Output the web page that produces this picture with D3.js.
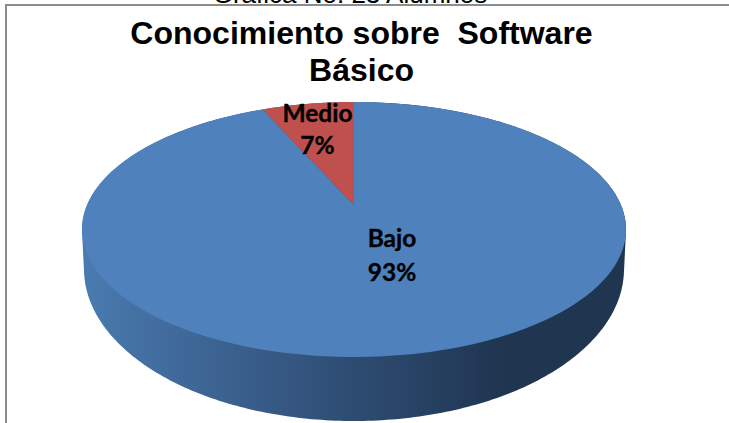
<!DOCTYPE html>
<html><head><meta charset="utf-8">
<script src="https://cdn.jsdelivr.net/npm/d3@7"></script>
<style>html,body{margin:0;padding:0;background:#fff}svg{display:block}</style></head>
<body><svg id="c" width="729" height="423"></svg>
<script>
const categories = ["Bajo", "Medio"];
const values = [93.4, 6.6];
const chartTitle = ["Conocimiento sobre  Software", "Básico"];
const pageCaption = "Gráfica No. 23 Alumnos";

const svg = d3.select("#c");
const cx = 354, cy = 229.5, rx = 272, ry = 127.5, tilt = 0.192;
const lowCy = 269, lowRx = 270, lowRy = 152;

// Projective map of the pie's flat circle on to the tilted ellipse
function project(r, a) {
  const X = r * Math.sin(a), Y = r * Math.cos(a), w = 1 + tilt * Y;
  return [cx + rx * X * Math.sqrt(1 - tilt * tilt) / w, cy - ry * (Y + tilt) / w];
}
function slicePath(d) {
  const steps = d3.range(0, 181).map(i => d.startAngle + (d.endAngle - d.startAngle) * i / 180);
  return d3.line()([project(0, 0), ...steps.map(a => project(1, a))]) + "Z";
}

// Bajo sweeps clockwise from 12 o'clock round to Medio, which ends at 12 o'clock
const total = d3.sum(values);
const slices = d3.pie().value(d => d).sort(null)(values);
const fills = d3.scaleOrdinal().domain(categories).range(["#4f81bd", "#c0504d"]);

const grad = svg.append("defs").append("linearGradient").attr("id", "side")
  .attr("gradientUnits", "userSpaceOnUse")
  .attr("x1", cx - rx).attr("x2", cx + rx).attr("y1", 0).attr("y2", 0);
[[0, "#4a7bb0"], [0.14, "#426d9f"], [0.5, "#2e4c72"], [0.78, "#1f3550"], [1, "#1f3550"]]
  .forEach(s => grad.append("stop").attr("offset", s[0]).attr("stop-color", s[1]));

// page caption cut by the frame's top
svg.append("text").attr("x", 350).attr("y", 3).attr("text-anchor", "middle")
  .attr("font-family", "Liberation Sans").attr("font-size", 26).attr("fill", "#000")
  .text(pageCaption);
svg.append("rect").attr("x", 6).attr("y", 5).attr("width", 740).attr("height", 430)
  .attr("fill", "#fff").attr("stroke", "#8c8c8c").attr("stroke-width", 2);

// side wall: hull of the top rim and the lower rim
const ring = (y0, a, b) => d3.range(0, 360).map(i => {
  const t = Math.PI * i / 180;
  return [cx + a * Math.cos(t), y0 + b * Math.sin(t)];
});
const hull = d3.polygonHull([...ring(cy, rx, ry), ...ring(lowCy, lowRx, lowRy)]);
svg.append("path").attr("d", d3.line()(hull) + "Z").attr("fill", "url(#side)");

// top faces
svg.selectAll("path.slice").data(slices).join("path").attr("class", "slice")
  .attr("d", slicePath).attr("fill", (d, i) => fills(categories[i]));

// title
svg.selectAll("text.title").data(chartTitle).join("text").attr("class", "title")
  .attr("x", 361.5).attr("y", (d, i) => 44 + i * 37)
  .attr("text-anchor", "middle").attr("font-family", "Liberation Sans")
  .attr("font-weight", "bold").attr("font-size", 32).attr("fill", "#000")
  .style("white-space", "pre").text(d => d);

// labels
const labelPos = [[392, 247, 281], [317.5, 122, 154]];
svg.selectAll("g.label").data(slices).join("g").attr("class", "label").each(function (d, i) {
  const g = d3.select(this), p = labelPos[i];
  const pct = Math.round(d.value / total * 100) + "%";
  [[categories[i], p[1]], [pct, p[2]]].forEach(t =>
    g.append("text").attr("x", p[0]).attr("y", t[1]).attr("text-anchor", "middle")
      .attr("font-family", "Lato").attr("font-weight", "bold").attr("font-size", 24.5)
      .attr("fill", "#000").attr("stroke", "#000").attr("stroke-width", 0.35).text(t[0]));
});
</script></body></html>
